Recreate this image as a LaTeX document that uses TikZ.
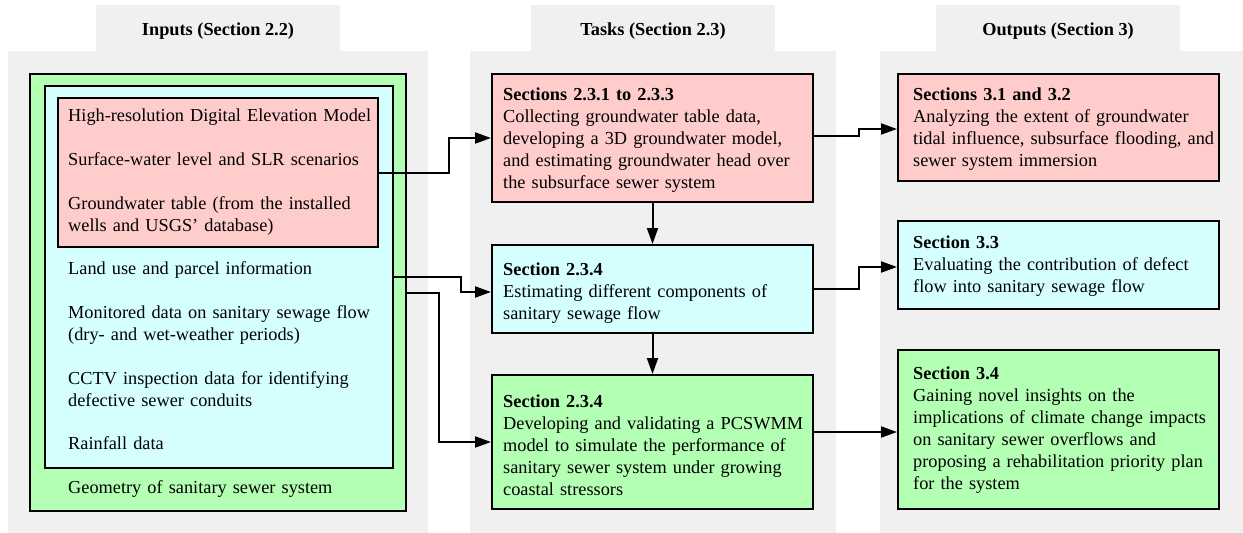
\documentclass[tikz,border=0pt]{standalone}
\usepackage{fontspec}
\setmainfont{Liberation Serif}
\usetikzlibrary{arrows.meta}
\definecolor{panelgray}{HTML}{F0F0F0}
\definecolor{pinkfill}{HTML}{FFCCCC}
\definecolor{cyanfill}{HTML}{D5FFFF}
\definecolor{greenfill}{HTML}{B3FFB3}

\begin{document}
\begin{tikzpicture}[x=1pt,y=-1pt,
  panel/.style={fill=panelgray, draw=none, inner sep=0, outer sep=0},
  tab/.style={panel, minimum width=244pt, minimum height=47pt,
    font=\fontsize{18.3}{22}\selectfont\bfseries, text height=18pt, text depth=4pt},
  box/.style={draw=black, line width=2pt, inner sep=0},
  txt/.style={anchor=base west, inner sep=0, text width=330pt, align=left,
    font=\fontsize{18.3}{22}\selectfont},
  conn/.style={line width=2pt, -{Triangle[length=16pt,width=11pt]}}
]
\useasboundingbox (0,0) rectangle (1243,533);

% column backgrounds with their header tabs
\node[panel, minimum width=420pt, minimum height=482pt] (inPanel) at (218,292) {};
\node[panel, minimum width=366pt, minimum height=482pt] (taskPanel) at (653,292) {};
\node[panel, minimum width=363pt, minimum height=482pt] (outPanel) at (1061.5,292) {};
\node[tab] (inTab) at (218,28.5) {Inputs (Section 2.2)};
\node[tab] (taskTab) at (653,28.5) {Tasks (Section 2.3)};
\node[tab] (outTab) at (1058,28.5) {Outputs (Section 3)};

% nested input groups
\node[box, fill=greenfill, minimum width=376pt, minimum height=437pt] (greenIn) at (218,292.5) {};
\node[box, fill=cyanfill, minimum width=348pt, minimum height=382pt] (cyanIn) at (219,277) {};
\node[box, fill=pinkfill, minimum width=320pt, minimum height=149pt] (pinkIn) at (218,172.5) {};

\node[txt] (inDem) at (68,121) {High-resolution Digital Elevation Model};
\node[txt] (inSwl) at (68,165) {Surface-water level and SLR scenarios};
\node[txt] (inGwt) at (68,209) {Groundwater table (from the installed\\wells and USGS’ database)};
\node[txt] (inLand) at (68,274) {Land use and parcel information};
\node[txt] (inMon) at (68,318) {Monitored data on sanitary sewage flow\\(dry- and wet-weather periods)};
\node[txt] (inCctv) at (68,384) {CCTV inspection data for identifying\\defective sewer conduits};
\node[txt] (inRain) at (68,449) {Rainfall data};
\node[txt] (inGeom) at (68,493) {Geometry of sanitary sewer system};

% task boxes
\node[box, fill=pinkfill, minimum width=321pt, minimum height=128pt] (taskPink) at (652.5,138) {};
\node[box, fill=cyanfill, minimum width=321pt, minimum height=88pt] (taskCyan) at (652.5,289) {};
\node[box, fill=greenfill, minimum width=321pt, minimum height=134pt] (taskGreen) at (652.5,442) {};

\node[txt] (taskPinkTxt) at (503,100) {\textbf{Sections 2.3.1 to 2.3.3}\\Collecting groundwater table data,\\developing a 3D groundwater model,\\and estimating groundwater head over\\the subsurface sewer system};
\node[txt] (taskCyanTxt) at (503,275) {\textbf{Section 2.3.4}\\Estimating different components of\\sanitary sewage flow};
\node[txt] (taskGreenTxt) at (503,407) {\textbf{Section 2.3.4}\\Developing and validating a PCSWMM\\model to simulate the performance of\\sanitary sewer system under growing\\coastal stressors};

% output boxes
\node[box, fill=pinkfill, minimum width=321pt, minimum height=107pt] (outPink) at (1058.5,127.5) {};
\node[box, fill=cyanfill, minimum width=321pt, minimum height=88pt] (outCyan) at (1058.5,265) {};
\node[box, fill=greenfill, minimum width=321pt, minimum height=159pt] (outGreen) at (1058.5,429.5) {};

\node[txt] (outPinkTxt) at (913,100) {\textbf{Sections 3.1 and 3.2}\\Analyzing the extent of groundwater\\tidal influence, subsurface flooding, and\\sewer system immersion};
\node[txt] (outCyanTxt) at (913,248) {\textbf{Section 3.3}\\Evaluating the contribution of defect\\flow into sanitary sewage flow};
\node[txt] (outGreenTxt) at (913,379) {\textbf{Section 3.4}\\Gaining novel insights on the\\implications of climate change impacts\\on sanitary sewer overflows and\\proposing a rehabilitation priority plan\\for the system};

% inputs to tasks
\draw[conn] (pinkIn.east) -- ++(70,0) |- (taskPink.west);
\draw[conn] (cyanIn.east) -- ++(67,0) |- ([yshift=-3pt]taskCyan.west);
\draw[conn] (greenIn.east) -- ++(32,0) |- (taskGreen.west);

% task sequence
\draw[conn] (taskPink.south) -- (taskCyan.north);
\draw[conn] (taskCyan.south) -- (taskGreen.north);

% tasks to outputs
\draw[conn] ([yshift=2pt]taskPink.east) -- ++(45,0) |- ([yshift=-1.5pt]outPink.west);
\draw[conn] (taskCyan.east) -- ++(45,0) |- ([yshift=-2pt]outCyan.west);
\draw[conn] (taskGreen.east |- outGreen.west) ++(0,2.5) -- ([yshift=-2.5pt]outGreen.west);
\end{tikzpicture}
\end{document}
